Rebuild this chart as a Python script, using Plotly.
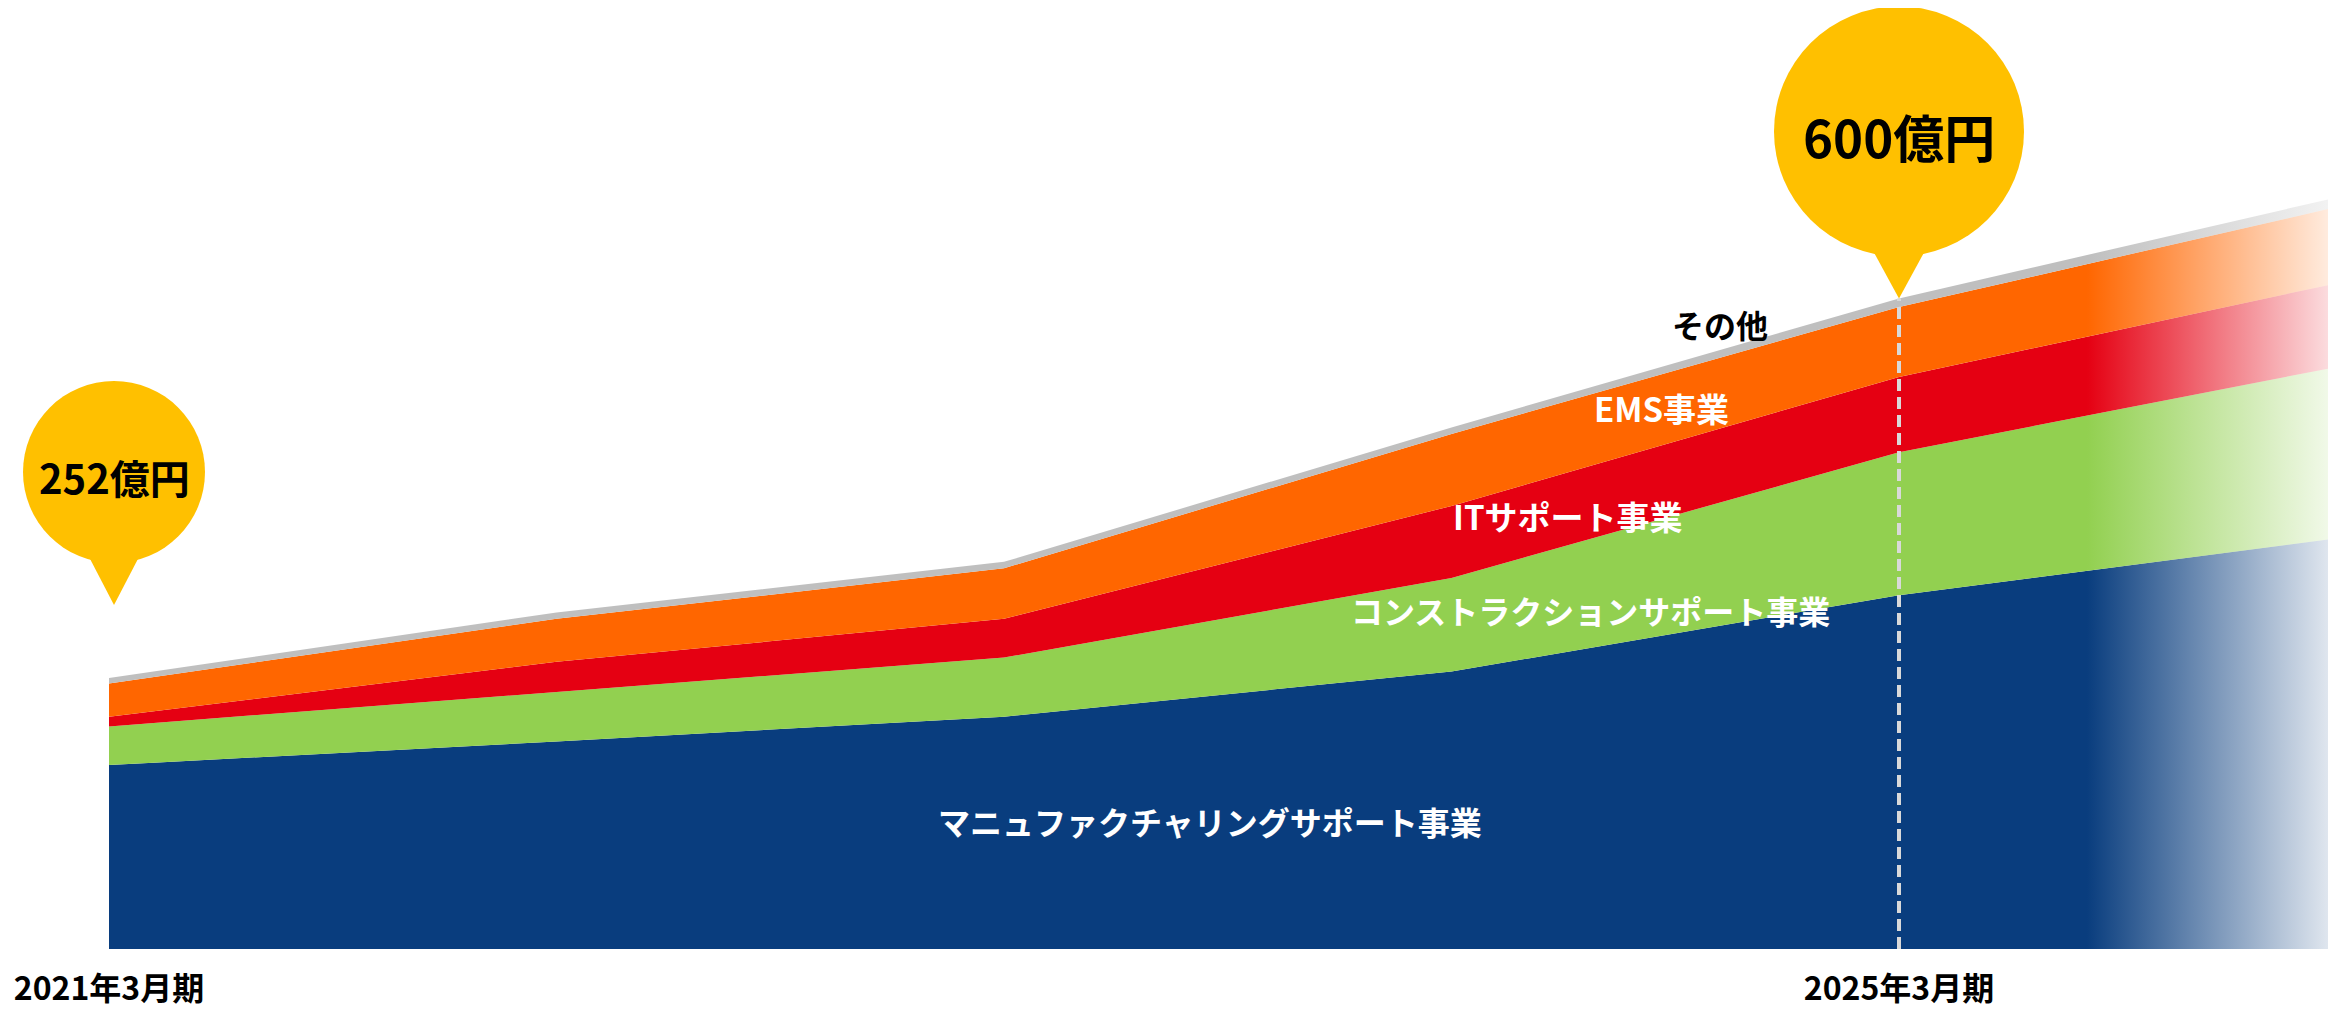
import plotly.graph_objects as go
import numpy as np

# ---------------- data (億円) ----------------
years = [2021, 2022, 2023, 2024, 2025, 2026]
tick_years = [2021, 2025]
tick_labels = ["2021年3月期", "2025年3月期"]

series_names = ["マニュファクチャリングサポート事業", "コンストラクションサポート事業",
                "ITサポート事業", "EMS事業", "その他"]
manufacturing = [171, 193, 216, 258, 329, 383]
construction = [36, 46, 55, 87, 133, 160]
it_support = [9, 28, 36, 67, 70, 78]
ems = [31, 40, 47, 67, 65, 71]
other = [5, 6, 6, 6, 8, 9]

balloon_labels = ["252億円", "600億円"]
balloon_years = [2021, 2025]

# ---------------- styling ----------------
colors = ["#093D7E", "#92D050", "#E50012", "#FF6600", "#BFBFBF"]
end_alpha = [0.13, 0.13, 0.14, 0.13, 0.2]
label_colors = ["white", "white", "white", "white", "black"]
FONT = "Noto Sans CJK JP, Noto Sans CJK SC, sans-serif"
YELLOW = "#FFC000"

OFF = 8  # browser body margin
W, H = 2344 - 2 * OFF, 1010 - OFF
ML, MT = 0, 0
MR = W - (2328 - OFF)
MB = H - (949 - OFF)
plot_w = W - ML - MR
plot_h = H - MT - MB
px_per_year = 447.5
x_left_px = 109 - OFF
x0 = years[0] - x_left_px / px_per_year
x1 = x0 + plot_w / px_per_year
val_per_px = 252 / 271
ymax = plot_h * val_per_px

fade_start = 2025.42
frac = (fade_start - years[0]) / (x1 - years[0])


def rgb(h):
    h = h.lstrip("#")
    return tuple(int(h[i:i + 2], 16) for i in (0, 2, 4))


def scale(c, a):
    r, g, b = rgb(c)
    return [[0, f"rgba({r},{g},{b},1)"], [frac, f"rgba({r},{g},{b},1)"],
            [1, f"rgba({r},{g},{b},{a})"]]


series = [manufacturing, construction, it_support, ems, other]
fig = go.Figure()
for name, vals, c, a in zip(series_names, series, colors, end_alpha):
    fig.add_trace(go.Scatter(
        x=years, y=vals, name=name, stackgroup="one", mode="none",
        fillgradient=dict(type="horizontal", colorscale=scale(c, a),
                          start=years[0], stop=x1),
        hoverinfo="skip", showlegend=False))

totals = np.sum(np.array(series), axis=0)

shapes = []
i25 = years.index(2025)
shapes.append(dict(type="line", xref="x", yref="y", x0=2025, x1=2025, y0=0,
                   y1=float(totals[i25]), layer="above",
                   line=dict(color="#D9D9D9", width=4, dash="12px,6px")))

balloon_style = [
    dict(dx=5, tip=73, h=133, r=91, base=50, hw=26, fs=40),
    dict(dx=0, tip=0, h=167, r=125, base=55, hw=30, fs=51),
]
annotations = []
for lab, yr, st in zip(balloon_labels, balloon_years, balloon_style):
    ya = float(totals[years.index(yr)])
    tip = st["tip"]
    cy = tip + st["h"]
    shapes.append(dict(type="circle", xref="x", yref="y", xsizemode="pixel", ysizemode="pixel",
                       xanchor=yr, yanchor=ya, x0=st["dx"] - st["r"], x1=st["dx"] + st["r"],
                       y0=cy - st["r"], y1=cy + st["r"], fillcolor=YELLOW,
                       line=dict(width=0), layer="above"))
    shapes.append(dict(type="path", xref="x", yref="y", xsizemode="pixel", ysizemode="pixel",
                       xanchor=yr, yanchor=ya,
                       path=f"M {st['dx'] - st['hw']},{tip + st['base']} L {st['dx']},{tip} "
                            f"L {st['dx'] + st['hw']},{tip + st['base']} Z",
                       fillcolor=YELLOW, line=dict(width=0), layer="above"))
    annotations.append(dict(x=yr, y=ya, xref="x", yref="y", text=lab, showarrow=False,
                            xshift=st["dx"], yshift=cy - 5,
                            font=dict(family=FONT, size=st["fs"], color="black", weight="bold")))

label_pos = [(2023.46, 119), (2024.31, 315), (2024.26, 403), (2024.47, 503), (2024.60, 581)]
label_sizes = [32, 32, 33, 33, 32]
for name, (lx, ly), lc, fs in zip(series_names, label_pos, label_colors, label_sizes):
    annotations.append(dict(x=lx, y=ly, xref="x", yref="y", text=name, showarrow=False,
                            font=dict(family=FONT, size=fs, color=lc, weight="bold")))

fig.update_layout(
    template="none",
    width=W, height=H, margin=dict(l=ML, r=MR, t=MT, b=MB, pad=0, autoexpand=False),
    paper_bgcolor="white", plot_bgcolor="white",
    xaxis=dict(range=[x0, x1], showgrid=False, zeroline=False, showline=False,
               automargin=False,
               tickvals=tick_years, ticktext=tick_labels, ticks="",
               ticklabelstandoff=18,
               tickfont=dict(family=FONT, size=32, color="black", weight="bold"),
               fixedrange=True),
    yaxis=dict(range=[0, ymax], visible=False, automargin=False, fixedrange=True),
    shapes=shapes, annotations=annotations, showlegend=False,
)

fig.write_html("out.html")
